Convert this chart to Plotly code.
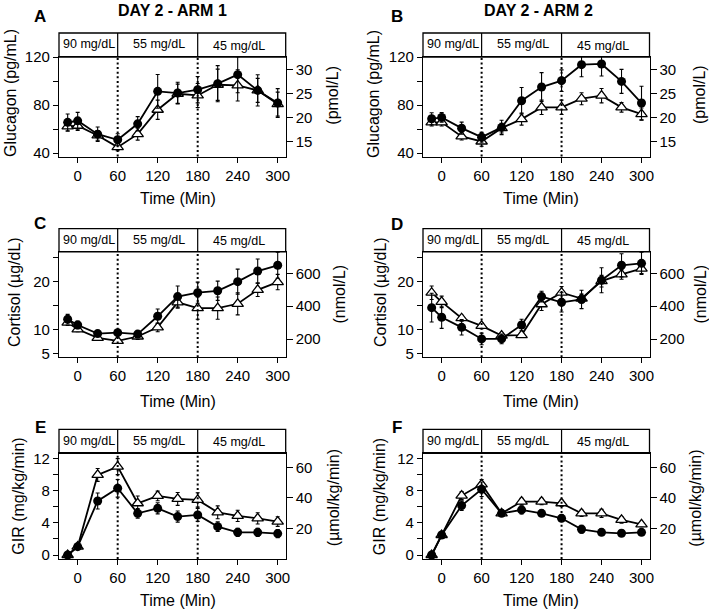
import plotly.graph_objects as go

W, H = 709, 610
FONT = "Liberation Sans, Arial, Helvetica, sans-serif"

# ── Data ──────────────────────────────────────────────────────────────────────
TIME = [-15, 0, 30, 60, 90, 120, 150, 180, 210, 240, 270, 300]
X_TICKS = [0, 60, 120, 180, 240, 300]
CLAMP_LABELS = ["90 mg/dL", "55 mg/dL", "45 mg/dL"]
CLAMP_LABEL_X = [17, 122, 242]
CLAMP_STEPS = [60, 180]

# Glucagon (pg/mL) — Arm 1
GLU1_CIRC = [65.6, 66.9, 55.8, 51.1, 64.4, 91.4, 90.0, 92.8, 97.8, 105.3, 92.2, 81.7]
GLU1_CIRC_ERR = [7, 7, 6, 5, 6, 14, 9, 11, 15, 15, 13, 12]
GLU1_TRI = [62.2, 62.8, 54.7, 45.0, 55.8, 76.1, 89.4, 88.0, 96.9, 96.4, 92.2, 80.8]
GLU1_TRI_ERR = [4, 4, 4, 3, 5, 8, 8, 10, 13, 13, 10, 10]
# Glucagon (pg/mL) — Arm 2
GLU2_CIRC = [68.6, 69.7, 60.8, 53.3, 61.4, 83.6, 95.0, 100.3, 113.6, 114.2, 99.7, 81.7]
GLU2_CIRC_ERR = [5, 4, 5, 4, 6, 11, 12, 9, 10, 10, 10, 14]
GLU2_TRI = [65.6, 65.6, 53.9, 49.7, 60.8, 68.3, 78.1, 78.1, 85.3, 87.8, 78.1, 72.5]
GLU2_TRI_ERR = [3, 3, 3, 4, 4, 5, 6, 6, 5, 6, 4, 5]

# Cortisol (µg/dL) — Arm 1
COR1_CIRC = [12.2, 11.0, 9.2, 9.4, 9.1, 12.8, 16.9, 17.7, 18.1, 20.0, 22.2, 23.4]
COR1_CIRC_ERR = [1.0, 0.8, 0.5, 0.6, 0.5, 1.5, 2.2, 2.2, 2.0, 2.6, 2.5, 2.7]
COR1_TRI = [11.5, 10.1, 8.3, 7.7, 8.6, 10.5, 15.7, 14.5, 14.5, 15.4, 18.3, 19.9]
COR1_TRI_ERR = [0.6, 0.5, 0.4, 0.5, 0.6, 0.9, 1.2, 2.3, 2.3, 2.3, 1.4, 1.6]
# Cortisol (µg/dL) — Arm 2
COR2_CIRC = [14.6, 12.6, 10.5, 8.1, 8.1, 11.0, 16.9, 15.7, 16.3, 20.3, 23.4, 23.8]
COR2_CIRC_ERR = [3.0, 2.3, 1.6, 1.2, 1.0, 1.2, 1.1, 2.0, 1.9, 2.6, 2.4, 2.3]
COR2_TRI = [17.7, 15.8, 12.4, 10.8, 8.8, 8.9, 15.3, 17.7, 16.5, 20.1, 21.5, 22.7]
COR2_TRI_ERR = [1.4, 1.2, 0.6, 0.6, 0.5, 0.5, 1.3, 1.3, 0.9, 1.2, 1.0, 1.0]

# GIR (mg/kg/min) — Arm 1
GIR1_CIRC = [0.0, 1.04, 6.75, 8.33, 5.2, 5.83, 4.8, 5.0, 3.54, 2.83, 2.83, 2.67]
GIR1_CIRC_ERR = [0.1, 0.2, 1.0, 1.1, 0.6, 0.7, 0.7, 0.8, 0.6, 0.5, 0.5, 0.5]
GIR1_TRI = [0.0, 1.04, 10.0, 11.04, 6.46, 7.38, 7.0, 6.88, 5.33, 4.88, 4.58, 4.17]
GIR1_TRI_ERR = [0.1, 0.1, 0.8, 1.0, 0.9, 0.6, 0.8, 0.9, 0.8, 0.7, 0.7, 0.6]
# GIR (mg/kg/min) — Arm 2
GIR2_CIRC = [0.0, 2.5, 6.17, 8.21, 5.2, 5.63, 5.2, 4.58, 3.21, 2.83, 2.71, 2.83]
GIR2_CIRC_ERR = [0.1, 0.2, 0.6, 0.9, 0.4, 0.5, 0.4, 0.4, 0.5, 0.4, 0.4, 0.3]
GIR2_TRI = [0.0, 2.5, 7.42, 8.83, 5.2, 6.67, 6.67, 6.46, 5.2, 5.2, 4.38, 3.83]
GIR2_TRI_ERR = [0.1, 0.2, 0.5, 0.6, 0.3, 0.4, 0.4, 0.4, 0.4, 0.5, 0.4, 0.3]

# ── Axis specs per row ────────────────────────────────────────────────────────
ROWS = [
    dict(ylab="Glucagon (pg/mL)", rlab="(pmol/L)",
         yrange=[37.2, 120], yticks=[40, 60, 80, 100, 120], ytext=["40", "", "80", "", "120"],
         rrange=[11.86, 32.66], rticks=[15, 20, 25, 30],
         header=(33, 57), plot=(57, 156.5), xtitle_y=199, ytitle_y=93.5),
    dict(ylab="Cortisol (\u00b5g/dL)", rlab="(nmol/L)",
         yrange=[4.28, 26.2], yticks=[5, 10, 15, 20, 25], ytext=["5", "10", "", "20", ""],
         rrange=[89, 731], rticks=[200, 400, 600],
         header=(228.6, 251.8), plot=(251.8, 357.3), xtitle_y=401, ytitle_y=292.5),
    dict(ylab="GIR (mg/kg/min)", rlab="(\u00b5mol/kg/min)",
         yrange=[-0.5, 12.7], yticks=[0, 2, 4, 6, 8, 10, 12], ytext=["0", "", "4", "", "8", "", "12"],
         rrange=[-0.3, 69.5], rticks=[20, 40, 60],
         header=(429.3, 453.3), plot=(453.3, 559), xtitle_y=600, ytitle_y=496.7),
]
COLS = [
    dict(box=(59, 285.7), title="DAY 2 - ARM 1", title_x=172.5, xtitle_x=178,
         lab_x=[10.5, 14.5, 19], rlab_x=[331.7, 338.5, 333], letter_x=40),
    dict(box=(423, 649.5), title="DAY 2 - ARM 2", title_x=538, xtitle_x=541,
         lab_x=[373.5, 380.5, 379.5], rlab_x=[699, 699.5, 695.5], letter_x=397),
]
PANEL_DATA = [
    [(GLU1_CIRC, GLU1_CIRC_ERR, GLU1_TRI, GLU1_TRI_ERR), (GLU2_CIRC, GLU2_CIRC_ERR, GLU2_TRI, GLU2_TRI_ERR)],
    [(COR1_CIRC, COR1_CIRC_ERR, COR1_TRI, COR1_TRI_ERR), (COR2_CIRC, COR2_CIRC_ERR, COR2_TRI, COR2_TRI_ERR)],
    [(GIR1_CIRC, GIR1_CIRC_ERR, GIR1_TRI, GIR1_TRI_ERR), (GIR2_CIRC, GIR2_CIRC_ERR, GIR2_TRI, GIR2_TRI_ERR)],
]
LETTERS = [["A", "B"], ["C", "D"], ["E", "F"]]
LETTER_Y = [[16, 16], [223, 224], [427.5, 427]]
X_RANGE = [-28, 312]


def xf(px):
    return px / W


def yf(py):
    return 1 - py / H


def _text(text, x, y, size, xref="paper", angle=0):
    return dict(
        text=text, xref=xref, x=x if xref != "paper" else xf(x), yref="paper", y=yf(y),
        xanchor="center", yanchor="middle", textangle=angle, showarrow=False,
        font=dict(size=size, color="black", family=FONT),
    )


fig = go.Figure()
layout = {}
shapes = []
annotations = []

AXIS_COMMON = dict(
    showgrid=False, zeroline=False, ticks="outside", ticklen=5, tickwidth=1.2,
    tickcolor="black", automargin=False,
    tickfont=dict(size=15, color="black", family=FONT),
)

i = 0
for r, row in enumerate(ROWS):
    for c, col in enumerate(COLS):
        i += 1
        xa = "x" if i == 1 else f"x{i}"
        ya = "y" if i == 1 else f"y{i}"
        ya2 = f"y{i + 6}"
        circ, circ_err, tri, tri_err = PANEL_DATA[r][c]

        fig.add_trace(go.Scatter(
            x=TIME, y=tri, xaxis=xa, yaxis=ya, mode="lines+markers",
            line=dict(color="black", width=1.8),
            marker=dict(symbol="triangle-up", size=10, color="white",
                        line=dict(color="black", width=1.3)),
            error_y=dict(type="data", array=tri_err, color="black", thickness=1.1, width=2),
            showlegend=False, hoverinfo="skip",
        ))
        fig.add_trace(go.Scatter(
            x=TIME, y=circ, xaxis=xa, yaxis=ya, mode="lines+markers",
            line=dict(color="black", width=1.8),
            marker=dict(symbol="circle", size=9, color="black"),
            error_y=dict(type="data", array=circ_err, color="black", thickness=1.1, width=2),
            showlegend=False, hoverinfo="skip",
        ))
        fig.add_trace(go.Scatter(
            x=[None], y=[None], xaxis=xa, yaxis=ya2, showlegend=False, hoverinfo="skip",
        ))

        p_top, p_bot = row["plot"]
        h_top, h_bot = row["header"]
        b_l, b_r = col["box"]

        layout["xaxis" if i == 1 else f"xaxis{i}"] = dict(
            AXIS_COMMON, domain=[xf(b_l), xf(b_r)], range=X_RANGE, anchor=ya,
            tickvals=X_TICKS, showline=True, linecolor="black", linewidth=1.3, mirror=True,
        )
        layout["yaxis" if i == 1 else f"yaxis{i}"] = dict(
            AXIS_COMMON, domain=[yf(p_bot), yf(p_top)], range=row["yrange"], anchor=xa,
            tickvals=row["yticks"], ticktext=row["ytext"],
            showline=True, linecolor="black", linewidth=1.3, mirror=True,
        )
        layout[f"yaxis{i + 6}"] = dict(
            AXIS_COMMON, overlaying=ya, side="right", anchor=xa, range=row["rrange"],
            tickvals=row["rticks"], showline=False, ticklen=6,
        )

        # header box with clamp-level labels
        shapes.append(dict(type="rect", xref=f"{xa} domain", x0=0, x1=1, yref="paper",
                           y0=yf(h_bot), y1=yf(h_top), line=dict(color="black", width=1.3)))
        for s in CLAMP_STEPS:
            shapes.append(dict(type="line", xref=xa, x0=s, x1=s, yref="paper",
                               y0=yf(h_bot), y1=yf(h_top), line=dict(color="black", width=1.2)))
            shapes.append(dict(type="line", xref=xa, x0=s, x1=s, yref=f"{ya} domain",
                               y0=0, y1=1, line=dict(color="black", width=2, dash="2px,2.6px")))
        for k, (lab, lx) in enumerate(zip(CLAMP_LABELS, CLAMP_LABEL_X)):
            hy = (h_top + h_bot) / 2 + (1 if k == 2 else -0.5)
            annotations.append(_text(lab, lx, hy, 12.5, xref=xa))

        # axis titles and panel letter
        annotations.append(_text(row["ylab"], col["lab_x"][r], row["ytitle_y"], 16, angle=-90))
        annotations.append(_text(row["rlab"], col["rlab_x"][r], row["ytitle_y"] + 1.5, 16, angle=-90))
        annotations.append(_text("Time (Min)", col["xtitle_x"], row["xtitle_y"], 16))
        annotations.append(_text(f"<b>{LETTERS[r][c]}</b>", col["letter_x"], LETTER_Y[r][c], 17))

for col in COLS:
    annotations.append(_text(f"<b>{col['title']}</b>", col["title_x"], 11, 16))

fig.update_layout(
    **layout,
    width=W, height=H,
    margin=dict(l=0, r=0, t=0, b=0, pad=0, autoexpand=False),
    paper_bgcolor="white", plot_bgcolor="white",
    font=dict(family=FONT, color="black"),
    shapes=shapes, annotations=annotations, showlegend=False,
)
# page body has a default 8px margin; drop it so the figure fills the window
fig.write_html(
    "out.html",
    config={"displayModeBar": False},
    post_script="document.body.style.margin = '0';",
)
